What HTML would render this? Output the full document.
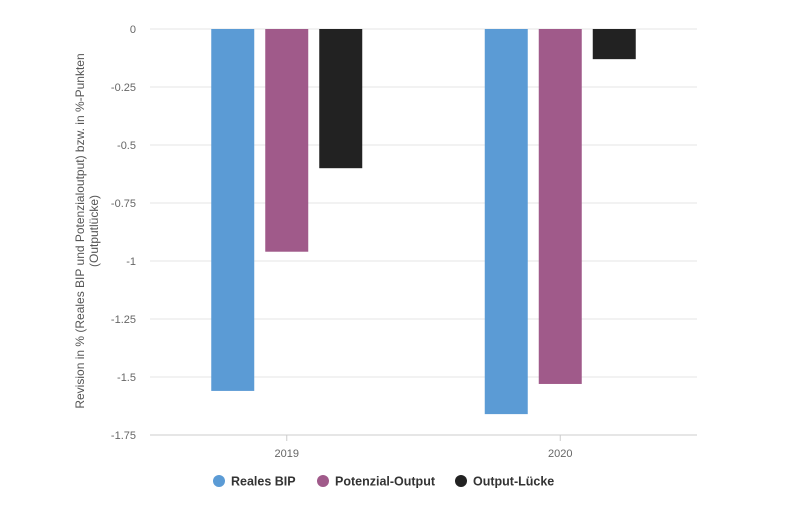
<!DOCTYPE html>
<html><head><meta charset="utf-8"><style>
body{margin:0;background:#fff;font-family:"Liberation Sans",Arial,sans-serif}
svg{display:block}
</style></head><body>
<svg id="chart" width="786" height="525">
<g id="grid"></g>
<g id="yticks"></g>
<g id="bars"></g>
<g id="xticks"></g>
<text transform="translate(84,231) rotate(-90)" text-anchor="middle" font-size="12" fill="#555"><tspan x="0" dy="0">Revision in % (Reales BIP und Potenzialoutput) bzw. in %-Punkten</tspan><tspan x="0" dy="14">(Outputlücke)</tspan></text>
<g id="legend"></g>
</svg>
<script>
const categories=["2019","2020"];
const seriesNames=["Reales BIP","Potenzial-Output","Output-Lücke"];
const realesBIP=[-1.56,-1.66];
const potenzialOutput=[-0.96,-1.53];
const outputLuecke=[-0.6,-0.13];
const yTicks=[0,-0.25,-0.5,-0.75,-1,-1.25,-1.5,-1.75];
const yTickLabels=["0","-0.25","-0.5","-0.75","-1","-1.25","-1.5","-1.75"];
const colors=["#5b9bd5","#a05a8a","#222222"];
const NS="http://www.w3.org/2000/svg";
const plotL=150,plotR=697,y0=29,y1=435,yMin=-1.75;
function y(v){return y0+(v/yMin)*(y1-y0);}
function xc(i){const w=(plotR-plotL)/categories.length;return plotL+w*(i+0.5);}
function mk(tag,attrs,parent){const e=document.createElementNS(NS,tag);for(const k in attrs)e.setAttribute(k,attrs[k]);parent.appendChild(e);return e;}
const grid=document.getElementById('grid'),yt=document.getElementById('yticks');
yTicks.forEach((t,i)=>{
  const l=mk('line',{x1:plotL,x2:plotR,y1:y(t),y2:y(t),stroke:i==yTicks.length-1?'#ccc':'#e6e6e6','stroke-width':1},grid);
  
  
  const tx=mk('text',{x:136,y:y(t)+4,'text-anchor':'end','font-size':11,fill:'#666'},yt);
  tx.textContent=yTickLabels[i];
  
  
});
const bars=document.getElementById('bars'),xt=document.getElementById('xticks');
const series=[realesBIP,potenzialOutput,outputLuecke];
const bw=43,gap=11;
categories.forEach((c,i)=>{
  const cx=xc(i);
  series.forEach((s,j)=>{
    const x=cx+(j-1)*(bw+gap)-bw/2;
    const r=mk('rect',{x:x,y:y(0),width:bw,height:y(s[i])-y(0),fill:colors[j]},bars);
    
    
  });
  const tk=mk('line',{x1:cx,x2:cx,y1:y1,y2:y1+6,stroke:'#ccc'},xt);
  
  
  const tl=mk('text',{x:cx,y:y1+22,'text-anchor':'middle','font-size':11,fill:'#666'},xt);
  tl.textContent=c;
  
  
});
const lg=document.getElementById('legend');
const lx=[219,323,461];
seriesNames.forEach((n,j)=>{
  const g=mk('g',{},lg);
  
  
  mk('circle',{cx:lx[j],cy:481,r:6,fill:colors[j]},g);
  const t=mk('text',{x:lx[j]+12,y:485.5,'font-size':12.5,'font-weight':'bold',fill:'#333'},g);
  t.textContent=n;
});
</script>
</body></html>
